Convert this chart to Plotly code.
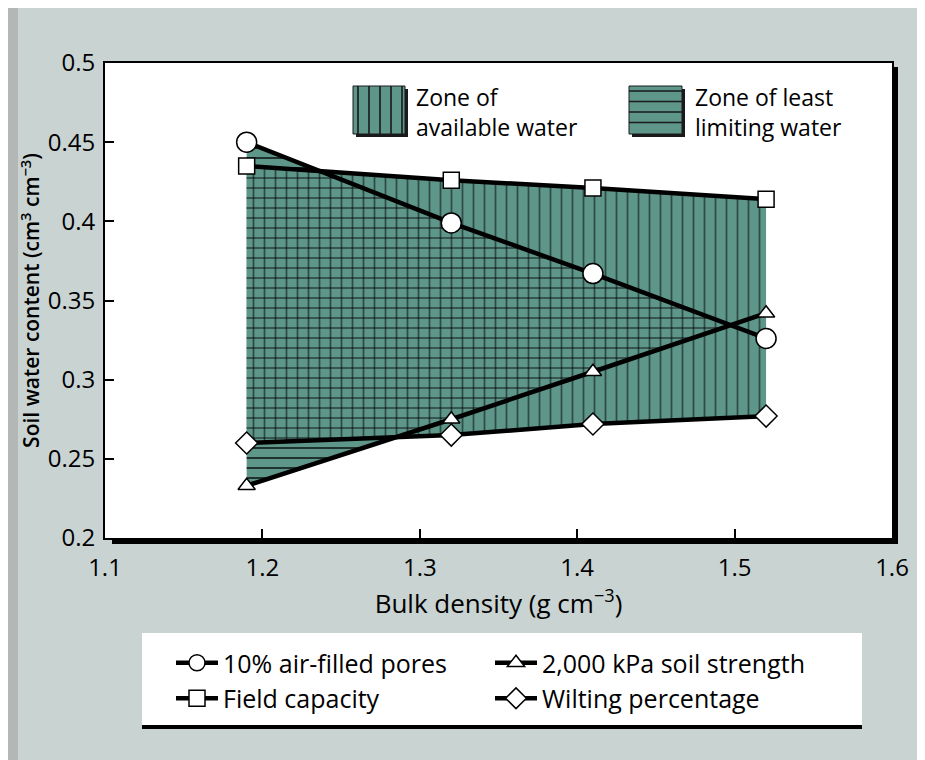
import plotly.graph_objects as go

# ---------------- data ----------------
bulk_density = [1.19, 1.32, 1.41, 1.52]
air_filled_pores = [0.450, 0.399, 0.367, 0.326]
field_capacity = [0.435, 0.426, 0.421, 0.414]
soil_strength = [0.233, 0.275, 0.305, 0.342]
wilting_percentage = [0.260, 0.265, 0.272, 0.277]

series_names = ["10% air-filled pores", "2,000 kPa soil strength",
                "Field capacity", "Wilting percentage"]
zone_labels = ["Zone of<br>available water", "Zone of least<br>limiting water"]
x_tick_vals = [1.1, 1.2, 1.3, 1.4, 1.5, 1.6]
x_tick_text = ["1.1", "1.2", "1.3", "1.4", "1.5", "1.6"]
y_tick_vals = [0.2, 0.25, 0.3, 0.35, 0.4, 0.45, 0.5]
y_tick_text = ["0.2", "0.25", "0.3", "0.35", "0.4", "0.45", "0.5"]

# ---------------- styles ----------------
TEAL = "#5f968a"
FONT = "Open Sans"
OFF = 8                      # page body margin
W, H = 925 - OFF, 760 - OFF
L, R, T, B = 97, 884, 55, 530    # plot area in figure pixels
PW, PH = R - L, B - T


def px(x):
    """page x pixel -> paper fraction"""
    return (x - OFF - L) / PW


def py(y):
    """page y pixel -> paper fraction"""
    return (B - (y - OFF)) / PH


def band(x, top, bottom):
    """Polygon between top and bottom, stopping where they cross."""
    xt, yt, xb, yb = [], [], [], []
    for i in range(len(x)):
        d = top[i] - bottom[i]
        if d >= 0:
            xt.append(x[i]); yt.append(top[i])
            xb.append(x[i]); yb.append(bottom[i])
        else:
            d0 = top[i - 1] - bottom[i - 1]
            t = d0 / (d0 - d)
            xc = x[i - 1] + t * (x[i] - x[i - 1])
            yc = top[i - 1] + t * (top[i] - top[i - 1])
            xt.append(xc); yt.append(yc)
            break
    return xt + xb[::-1], yt + yb[::-1]


aw_x, aw_y = band(bulk_density, field_capacity, wilting_percentage)
ll_x, ll_y = band(bulk_density, air_filled_pores, soil_strength)

fig = go.Figure()

# least limiting water zone, teal background + horizontal hatch
fig.add_trace(go.Scatter(
    x=ll_x, y=ll_y, fill="toself", mode="none", fillcolor=TEAL,
    fillpattern=dict(shape="-", fgcolor="black", bgcolor=TEAL, size=10, solidity=0.17),
    showlegend=False, hoverinfo="skip"))
# available water zone, teal background + vertical hatch
fig.add_trace(go.Scatter(
    x=aw_x, y=aw_y, fill="toself", mode="none", fillcolor=TEAL,
    fillpattern=dict(shape="|", fgcolor="black", bgcolor=TEAL, size=11, solidity=0.16),
    showlegend=False, hoverinfo="skip"))
# horizontal hatch overlay (makes grid in the overlap)
fig.add_trace(go.Scatter(
    x=ll_x, y=ll_y, fill="toself", mode="none", fillcolor="rgba(0,0,0,0)",
    fillpattern=dict(shape="-", fgcolor="black", bgcolor="rgba(0,0,0,0)", size=10, solidity=0.17),
    showlegend=False, hoverinfo="skip"))

series = [
    (series_names[0], air_filled_pores, "circle", 20),
    (series_names[1], soil_strength, "triangle-up", 15),
    (series_names[2], field_capacity, "square", 16),
    (series_names[3], wilting_percentage, "diamond", 17),
]
for name, vals, sym, size in series:
    fig.add_trace(go.Scatter(
        x=bulk_density, y=vals, name=name, mode="lines+markers",
        line=dict(color="black", width=4.5),
        marker=dict(symbol=sym, size=size, color="white",
                    line=dict(color="black", width=1.5)),
        cliponaxis=False))

# ---------------- decorations ----------------
shapes = []
# left dark strip of the scanned page
shapes.append(dict(type="rect", xref="paper", yref="paper",
                   x0=px(8), x1=px(18), y0=py(760), y1=py(8),
                   fillcolor="#b3b8b7", line=dict(width=0), layer="below"))
# frame drop shadow (right and bottom)
shapes.append(dict(type="line", xref="paper", yref="paper",
                   x0=px(112), x1=px(898), y0=py(541), y1=py(541),
                   line=dict(color="black", width=6), layer="above"))
shapes.append(dict(type="line", xref="paper", yref="paper",
                   x0=px(895), x1=px(895), y0=py(67), y1=py(544),
                   line=dict(color="black", width=6), layer="above"))
# bottom legend box
shapes.append(dict(type="rect", xref="paper", yref="paper",
                   x0=px(142), x1=px(862), y0=py(727), y1=py(633),
                   fillcolor="white", line=dict(width=0), layer="below"))
shapes.append(dict(type="line", xref="paper", yref="paper",
                   x0=px(142), x1=px(862), y0=py(727), y1=py(727),
                   line=dict(color="black", width=4), layer="below"))


def patch(x0, x1, y0, y1, vertical):
    out = []
    out.append(dict(type="rect", xref="paper", yref="paper",
                    x0=px(x0 + 3), x1=px(x1 + 3), y0=py(y1 + 3), y1=py(y0 + 3),
                    fillcolor="#1a1a1a", line=dict(width=0), layer="above"))
    out.append(dict(type="rect", xref="paper", yref="paper",
                    x0=px(x0), x1=px(x1), y0=py(y1), y1=py(y0),
                    fillcolor=TEAL, line=dict(color="#1a1a1a", width=1), layer="above"))
    path = ""
    if vertical:
        xx = x0 + 5
        while xx < x1 - 2:
            path += f"M{px(xx)},{py(y0)} L{px(xx)},{py(y1)} "
            xx += 11
    else:
        yy = y0 + 5
        while yy < y1 - 2:
            path += f"M{px(x0)},{py(yy)} L{px(x1)},{py(yy)} "
            yy += 10.5
    out.append(dict(type="path", xref="paper", yref="paper", path=path,
                    line=dict(color="#1a1a1a", width=1.6), layer="above"))
    return out


shapes += patch(353, 405, 86, 134, True)
shapes += patch(629, 682, 86, 134, False)

annotations = []
for txt, x0 in zip(zone_labels, [414, 693]):
    annotations.append(dict(
        text=txt, xref="paper", yref="paper", x=px(x0), y=py(112),
        xanchor="left", yanchor="middle", align="left", showarrow=False,
        font=dict(family=FONT, size=23, color="black")))

fig.update_layout(
    width=W, height=H, autosize=False,
    margin=dict(l=L, r=W - R, t=T, b=H - B, pad=0),
    paper_bgcolor="#c9d3d2", plot_bgcolor="white",
    font=dict(family=FONT, color="black"),
    shapes=shapes, annotations=annotations,
    legend=dict(orientation="h", x=px(171), y=py(640), xanchor="left", yanchor="top",
                bgcolor="rgba(0,0,0,0)", font=dict(family=FONT, size=25, color="black"),
                entrywidth=262, entrywidthmode="pixels", traceorder="normal",
                itemwidth=42, itemclick=False, itemdoubleclick=False, tracegroupgap=0),
    xaxis=dict(range=[1.1, 1.6], tickvals=x_tick_vals, ticktext=x_tick_text,
               ticks="inside", ticklen=9, tickwidth=1.5, tickcolor="black",
               showline=True, linecolor="black", linewidth=2, mirror=True,
               showgrid=False, zeroline=False, ticklabelstandoff=7,
               tickfont=dict(family=FONT, size=24, color="black"),
               title=dict(text="Bulk density (g cm<sup>−3</sup>)", standoff=10,
                          font=dict(family=FONT, size=26, color="black"))),
    yaxis=dict(range=[0.2, 0.5], tickvals=y_tick_vals, ticktext=y_tick_text,
               ticks="inside", ticklen=9, tickwidth=1.5, tickcolor="black",
               showline=True, linecolor="black", linewidth=2, mirror=True,
               showgrid=False, zeroline=False, ticklabelstandoff=3,
               tickfont=dict(family=FONT, size=24, color="black"),
               title=dict(text="Soil water content (cm<sup>3</sup> cm<sup>−3</sup>)", standoff=2,
                          font=dict(family=FONT, size=21, color="black", weight=600))),
)

fig.write_html("out.html")
